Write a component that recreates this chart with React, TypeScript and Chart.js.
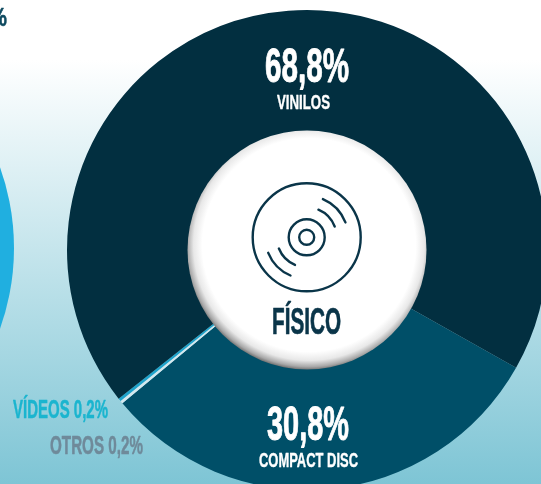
import React, { useEffect, useRef } from "react";
import { Chart, registerables } from "chart.js";

Chart.register(...registerables);

const categories = ["Compact Disc", "Otros", "Vídeos", "Vinilos"];
const shares = [30.8, 0.2, 0.2, 68.8];
const sliceColors = ["#004f68", "#d3e8ee", "#1ea3cb", "#022f40"];

const NAVY = "#0a3549";
const W = 541;
const H = 484;
const CX = 307;
const CY = 250;

type Lbl = { t: string; x0: number; x1: number; top: number; bottom: number; color: string };
const labels: Lbl[] = [
  { t: "68,8%", x0: 265, x1: 349, top: 47, bottom: 82, color: "#ffffff" },
  { t: "VINILOS", x0: 277, x1: 330, top: 95, bottom: 109, color: "#ffffff" },
  { t: "30,8%", x0: 267, x1: 349, top: 405, bottom: 440, color: "#ffffff" },
  { t: "COMPACT DISC", x0: 259, x1: 358, top: 452, bottom: 467, color: "#ffffff" },
  { t: "VÍDEOS 0,2%", x0: 13, x1: 108, top: 400, bottom: 418, color: "#1bb5cf" },
  { t: "OTROS 0,2%", x0: 50, x1: 143, top: 435, bottom: 454, color: "#6f8a9a" },
  { t: "FÍSICO", x0: 272, x1: 341, top: 308, bottom: 334, color: NAVY },
  { t: "%", x0: -11, x1: 7, top: 8, bottom: 26, color: "#0f4a60" },
];

function drawLabel(ctx: CanvasRenderingContext2D, l: Lbl) {
  const capH = l.bottom - l.top;
  const size = capH / 0.72;
  ctx.save();
  ctx.font = `bold ${size}px "Liberation Sans Narrow", "Liberation Sans", sans-serif`;
  ctx.textBaseline = "alphabetic";
  ctx.textAlign = "left";
  ctx.fillStyle = l.color;
  ctx.strokeStyle = l.color;
  ctx.lineWidth = Math.max(0.4, size / 50);
  ctx.lineJoin = "round";
  const m = ctx.measureText(l.t).width;
  ctx.translate(l.x0, l.bottom);
  ctx.scale((l.x1 - l.x0) / m, 1);
  ctx.fillText(l.t, 0, 0);
  ctx.strokeText(l.t, 0, 0);
  ctx.restore();
}

const backdrop = {
  id: "backdrop",
  beforeDraw(chart: Chart) {
    const ctx = chart.ctx;
    ctx.save();
    const g = ctx.createLinearGradient(0, 60, 0, H);
    g.addColorStop(0, "#ffffff");
    g.addColorStop(1, "#7ec5d5");
    ctx.fillStyle = "#ffffff";
    ctx.fillRect(0, 0, chart.width, chart.height);
    ctx.fillStyle = g;
    ctx.fillRect(0, 60, chart.width, chart.height);
    ctx.fillStyle = "#20afe0";
    ctx.beginPath();
    ctx.arc(-226, 248, 240, 0, Math.PI * 2);
    ctx.fill();
    ctx.restore();
  },
};

function arc(ctx: CanvasRenderingContext2D, x: number, y: number, r: number, a: number, b: number) {
  ctx.beginPath();
  ctx.arc(x, y, r, (a * Math.PI) / 180, (b * Math.PI) / 180);
  ctx.stroke();
}

const overlay = {
  id: "overlay",
  afterDraw(chart: Chart) {
    const ctx = chart.ctx;
    ctx.save();
    const r = 119.5;
    const g = ctx.createRadialGradient(CX + 2, CY - 5, 0, CX + 2, CY - 5, r + 6);
    g.addColorStop(0, "#ffffff");
    g.addColorStop(0.85, "#ffffff");
    g.addColorStop(0.92, "#e8e8e8");
    g.addColorStop(0.97, "#a8a8a8");
    g.addColorStop(1, "#666666");
    ctx.fillStyle = g;
    ctx.beginPath();
    ctx.arc(CX, CY, r, 0, Math.PI * 2);
    ctx.fill();

    const ix = 306.7;
    const iy = 237.3;
    ctx.strokeStyle = NAVY;
    ctx.lineWidth = 2.4;
    ctx.lineCap = "round";
    arc(ctx, ix, iy, 54, 0, 360);
    arc(ctx, ix, iy, 18, 0, 360);
    arc(ctx, ix, iy, 7.5, 0, 360);
    arc(ctx, ix, iy, 41.5, -67, -21);
    arc(ctx, ix, iy, 30, -67, -21);
    arc(ctx, ix, iy, 41.5, 113, 158);
    arc(ctx, ix, iy, 30, 113, 158);
    ctx.restore();
    labels.forEach((l) => drawLabel(ctx, l));
  },
};

export default function App() {
  const ref = useRef<HTMLCanvasElement>(null);
  useEffect(() => {
    const chart = new Chart(ref.current as HTMLCanvasElement, {
      type: "doughnut",
      data: {
        labels: categories,
        datasets: [{ data: shares, backgroundColor: sliceColors, borderWidth: 0, hoverOffset: 0 }],
      },
      options: {
        responsive: false,
        animation: false,
        rotation: 119.4,
        cutout: "49%",
        layout: { padding: { left: 67, top: 10, right: 73, bottom: 10 } },
        plugins: { legend: { display: false }, tooltip: { enabled: false } },
      },
      plugins: [backdrop, overlay],
    });
    return () => chart.destroy();
  }, []);
  return (
    <div style={{ position: "fixed", left: 0, top: 0, width: W, height: H, overflow: "hidden" }}>
      <canvas ref={ref} width={620} height={500} style={{ display: "block" }} />
    </div>
  );
}
